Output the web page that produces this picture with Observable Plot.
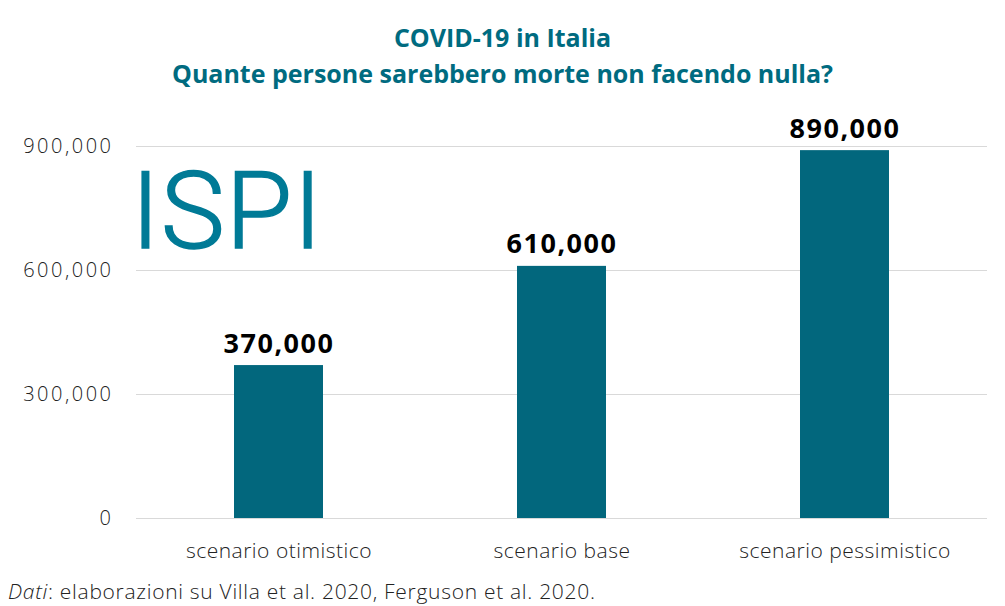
<!DOCTYPE html>
<html>
<head>
<meta charset="utf-8">
<script src="https://cdn.jsdelivr.net/npm/d3@7"></script>
<script src="https://cdn.jsdelivr.net/npm/@observablehq/plot@0.6"></script>
<style>
  html, body { margin: 0; padding: 0; background: #fff; }
  body { width: 1005px; height: 606px; position: relative; overflow: hidden; font-family: "Open Sans", sans-serif; }
  #title { position: absolute; left: 0; top: 0; width: 1005px; text-align: center; color: #006b80; font-family: "Open Sans", sans-serif; font-weight: 700; font-size: 25px; }
  #title div { height: 36px; line-height: 36px; }
  #t1 { position: absolute; top: 19px; width: 100%; }
  #t2 { position: absolute; top: 55px; width: 100%; }
  #chart { position: absolute; left: 0; top: 100px; }
  #logo { position: absolute; left: 131px; top: 157px; font-family: Roboto, sans-serif; font-weight: 300; font-size: 108px; color: #007a96; -webkit-text-stroke: 1.5px #007a96; letter-spacing: 1px; line-height: 1; }
  #caption { position: absolute; left: 8px; top: 577px; font-size: 21px; letter-spacing: 0.7px; color: #222; font-weight: 300; }
</style>
</head>
<body>
<div id="title"><div id="t1">COVID-19 in Italia</div><div id="t2">Quante persone sarebbero morte non facendo nulla?</div></div>
<div id="chart"></div>
<div id="logo">ISPI</div>
<div id="caption"><i>Dati</i>: elaborazioni su Villa et al. 2020, Ferguson et al. 2020.</div>
<script>
const scenari = ["scenario otimistico", "scenario base", "scenario pessimistico"];
const morti = [370000, 610000, 890000];
const yTicks = [0, 300000, 600000, 900000];

const data = scenari.map((s, i) => ({scenario: s, value: morti[i]}));
const fmt = d3.format(",");

const chart = Plot.plot({
  width: 1005,
  height: 475,
  marginTop: 46,
  marginBottom: 57,
  marginLeft: 136,
  marginRight: 18,
  style: {fontFamily: "'Open Sans', sans-serif", fontSize: "19px", color: "#222", background: "transparent"},
  x: {domain: scenari, paddingInner: 0.686, paddingOuter: 0.343, label: null, tickSize: 0, tickPadding: 25},
  y: {domain: [0, 900000], ticks: yTicks, tickFormat: fmt, label: null, tickSize: 0, tickPadding: 23},
  marks: [
    Plot.ruleY(yTicks, {stroke: "#d9d9d9", strokeWidth: 1}),
    Plot.barY(data, {x: "scenario", y: "value", fill: "#02677d"}),
    Plot.text(data, {x: "scenario", y: "value", text: d => fmt(d.value), dy: -13, lineAnchor: "bottom", fontSize: 27, fontWeight: "bold", fill: "#000"})
  ]
});
chart.querySelectorAll("[aria-label='y-axis tick label'] text").forEach(t => { t.style.fontWeight = 300; t.style.fontSize = "20px"; t.style.letterSpacing = "2.5px"; });
chart.querySelectorAll("[aria-label='x-axis tick label'] text").forEach(t => { t.style.fontWeight = 300; t.style.fontSize = "21px"; t.style.letterSpacing = "0.5px"; });
chart.querySelectorAll("[aria-label='text'] text").forEach(t => { t.style.letterSpacing = "1.5px"; });
document.getElementById("chart").appendChild(chart);
</script>
</body>
</html>
